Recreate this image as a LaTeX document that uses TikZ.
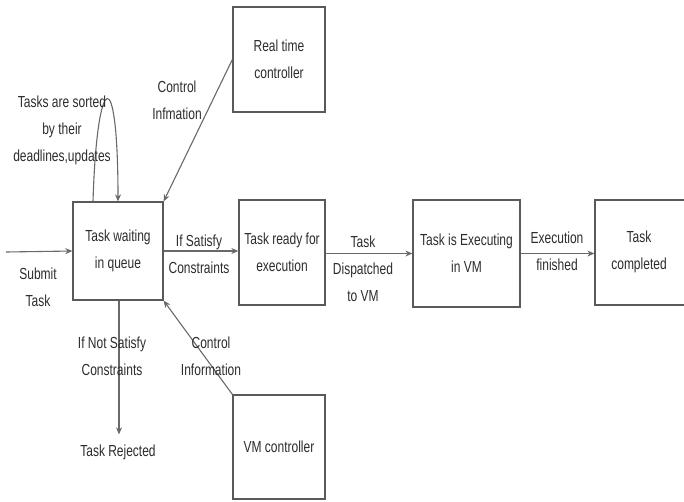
\documentclass[tikz,border=0pt]{standalone}
\usepackage{fontspec}
\setmainfont[FakeStretch=0.75]{Liberation Sans}
\usetikzlibrary{arrows.meta}
\definecolor{ln}{RGB}{105,105,105}
\definecolor{bx}{RGB}{90,90,90}
\definecolor{tx}{RGB}{45,45,45}
\tikzset{
  x=1pt, y=-1pt,
  stepbox/.style={draw=bx, line width=1.3pt, rectangle, minimum width=#1, align=center, text=tx, font=\fontsize{16}{27}\selectfont},
  lbl/.style={align=center, text=tx, font=\fontsize{16}{27}\selectfont, inner sep=0pt},
  conn/.style={draw=ln, line width=1.1pt, -{Stealth[length=7pt,width=6pt]}},
}
\begin{document}
\begin{tikzpicture}
\useasboundingbox (0,0) rectangle (684,501);
\clip (0,0) rectangle (684,501);
\fill[white] (0,0) rectangle (684,501);
% boxes
\node[stepbox=90pt, minimum height=98pt] (queue) at (118,251) {Task waiting\\in queue};
\node[stepbox=86pt, minimum height=105pt] (ready) at (282,252.5) {Task ready for\\execution};
\node[stepbox=107pt, minimum height=107pt] (exec) at (466.5,253.5) {Task is Executing\\in VM};
\node[stepbox=92pt, minimum height=105pt, text width=80pt] (done) at (641,252.5) {};
\node[lbl] (donet) at (639,252) {Task\\completed};
\node[stepbox=92pt, minimum height=105pt] (rtc) at (279,59.5) {Real time\\controller};
\node[stepbox=92pt, minimum height=104pt] (vm) at (279,447) {VM controller};
\node[lbl] (rej) at (118,452) {Task Rejected};
\coordinate (start) at (6,252);
% connectors
\draw[conn] (start) -- (queue.west);
\draw[conn] (queue.east) -- (queue.east -| ready.west);
\draw[conn] (ready.east |- exec.west) -- (exec.west);
\draw[conn] (exec.east) -- (exec.east -| done.west);
\draw[conn] (rtc.west) -- (queue.north east);
\draw[conn] (vm.north west) -- (queue.south east);
\draw[conn] ([xshift=1pt]queue.south) -- ([xshift=1pt,yshift=10pt]rej.north);
\draw[conn] ([xshift=-25pt]queue.north) .. controls (97,70) and (118,60) .. (queue.north);
% labels
\node[lbl] (l1) at (38,287) {Submit\\Task};
\node[lbl] (l2) at (199,254) {If Satisfy\\Constraints};
\node[lbl] (l3) at (363,269) {Task\\Dispatched\\to VM};
\node[lbl] (l4) at (557,251) {Execution\\finished};
\node[lbl] (l5) at (177,100) {Control\\Infmation};
\node[lbl] (l6) at (211,356) {Control\\Information};
\node[lbl] (l7) at (112,356) {If Not Satisfy\\Constraints};
\node[lbl] (l8) at (62,130) {Tasks are sorted\\by their\\deadlines,updates};
\end{tikzpicture}
\end{document}
